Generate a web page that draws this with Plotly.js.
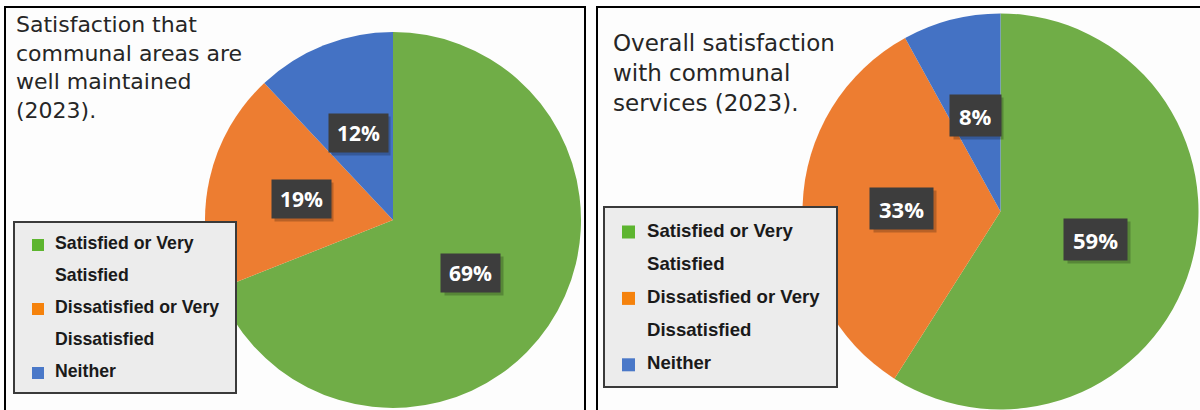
<!DOCTYPE html>
<html>
<head>
<meta charset="utf-8">
<script src="https://cdn.plot.ly/plotly-3.0.1.min.js"></script>
<style>
  html, body { margin: 0; padding: 0; background: #ffffff; }
  #chart { width: 1200px; height: 410px; }
</style>
</head>
<body>
<div id="chart"></div>
<script>
// ---- data ----
const categories = ["Satisfied or Very Satisfied", "Dissatisfied or Very Dissatisfied", "Neither"];
const communalAreasValues = [69, 19, 12];
const communalServicesValues = [59, 33, 8];
const chartTitles = [
  "Satisfaction that<br>communal areas are<br>well maintained<br>(2023).",
  "Overall satisfaction<br>with communal<br>services (2023)."
];

// ---- styles ----
const sliceColors = ["#70AD47", "#ED7D31", "#4472C4"];
const legendColors = ["#5DB52F", "#F5820C", "#4A78C8"];

const W = 1200, H = 410;
const px = x => x / W;
const py = y => 1 - y / H;

const panels = [
  { values: communalAreasValues, title: chartTitles[0],
    cx: 393, cy: 220, r: 188,
    frame: [5, 7, 585, 430], titleX: 14, titleY: 10, titleFont: 22,
    legendBox: [14, 222, 236, 393], markerX: 32, markerSize: 12, textX: 53,
    lineY0: 243, lineGap: 32, legendFont: 17.7,
    labelFont: 21, labelPad: 8, labelH: 22 },
  { values: communalServicesValues, title: chartTitles[1],
    cx: 1000.5, cy: 211.5, r: 198,
    frame: [597, 7, 1230, 430], titleX: 611, titleY: 28, titleFont: 23,
    legendBox: [604, 207, 837, 387], markerX: 622, markerSize: 13, textX: 645,
    lineY0: 230, lineGap: 33.2, legendFont: 18.6,
    labelFont: 22, labelPad: 9, labelH: 23 }
];

function wrap(text, maxChars) {
  const words = text.split(" ");
  const lines = [];
  let cur = "";
  words.forEach(w => {
    const test = cur ? cur + " " + w : w;
    if (test.length > maxChars && cur) { lines.push(cur); cur = w; }
    else cur = test;
  });
  if (cur) lines.push(cur);
  return lines;
}

const traces = [];
const shapes = [];
const annotations = [];

panels.forEach(p => {
  // panel frame
  shapes.push({
    type: "rect", xref: "paper", yref: "paper", layer: "below",
    x0: px(p.frame[0]), x1: px(p.frame[2]), y0: py(p.frame[3]), y1: py(p.frame[1]),
    line: { color: "#000000", width: 2 }, fillcolor: "#fdfdfd"
  });

  // pie
  traces.push({
    type: "pie",
    labels: categories,
    values: p.values,
    sort: false,
    direction: "clockwise",
    rotation: 0,
    textinfo: "none",
    hoverinfo: "none",
    marker: { colors: sliceColors, line: { width: 0 } },
    domain: { x: [px(p.cx - p.r), px(p.cx + p.r)], y: [py(p.cy + p.r), py(p.cy - p.r)] },
    showlegend: false
  });

  // data labels placed at half radius along each slice's mid-angle
  const total = p.values.reduce((a, b) => a + b, 0);
  let cum = 0;
  p.values.forEach((v, i) => {
    const mid = (cum + v / 2) / total * 2 * Math.PI;
    cum += v;
    const lx = p.cx + 0.5 * p.r * Math.sin(mid);
    const ly = p.cy - 0.5 * p.r * Math.cos(mid);
    const txt = Math.round(v / total * 100) + "%";
    const digits = txt.length - 1;
    const estW = (digits * 0.572 + 0.85) * p.labelFont;
    // soft shadow (blank box)
    annotations.push({
      xref: "paper", yref: "paper", x: px(lx), y: py(ly), xanchor: "center", yanchor: "middle",
      text: " ", showarrow: false, width: estW, height: p.labelH, borderpad: p.labelPad,
      xshift: 3, yshift: -3,
      bgcolor: "rgba(0,0,0,0.22)", font: { family: "Open Sans", size: p.labelFont, color: "rgba(0,0,0,0)" }
    });
    annotations.push({
      xref: "paper", yref: "paper", x: px(lx), y: py(ly), xanchor: "center", yanchor: "middle",
      text: txt, showarrow: false, height: p.labelH, borderpad: p.labelPad,
      bgcolor: "#3d3d3d", font: { family: "Open Sans", size: p.labelFont, color: "#ffffff", weight: 700 }
    });
  });

  // title
  annotations.push({
    xref: "paper", yref: "paper", x: px(p.titleX), y: py(p.titleY),
    xanchor: "left", yanchor: "top", align: "left", showarrow: false,
    text: p.title,
    font: { family: "DejaVu Sans", size: p.titleFont, color: "#262626" }
  });

  // legend box
  shapes.push({
    type: "rect", xref: "paper", yref: "paper", layer: "above",
    x0: px(p.legendBox[0]), x1: px(p.legendBox[2]), y0: py(p.legendBox[3]), y1: py(p.legendBox[1]),
    line: { color: "#3a3a3a", width: 2 }, fillcolor: "#ececec"
  });
  let line = 0;
  categories.forEach((c, i) => {
    const lines = wrap(c, 20);
    const y0 = p.lineY0 + line * p.lineGap;
    shapes.push({
      type: "rect", xref: "paper", yref: "paper", layer: "above",
      x0: px(p.markerX), x1: px(p.markerX + p.markerSize),
      y0: py(y0 + 2 + p.markerSize / 2), y1: py(y0 + 2 - p.markerSize / 2),
      line: { width: 0 }, fillcolor: legendColors[i]
    });
    lines.forEach(t => {
      annotations.push({
        xref: "paper", yref: "paper", x: px(p.textX), y: py(p.lineY0 + line * p.lineGap),
        xanchor: "left", yanchor: "middle", showarrow: false, text: t,
        font: { family: "Liberation Sans", size: p.legendFont, color: "#1a1a1a", weight: 700 }
      });
      line++;
    });
  });
});

const layout = {
  width: W, height: H,
  margin: { l: 0, r: 0, t: 0, b: 0 },
  paper_bgcolor: "#ffffff",
  showlegend: false,
  shapes: shapes,
  annotations: annotations
};

Plotly.newPlot("chart", traces, layout, { staticPlot: true, displayModeBar: false });
</script>
</body>
</html>
